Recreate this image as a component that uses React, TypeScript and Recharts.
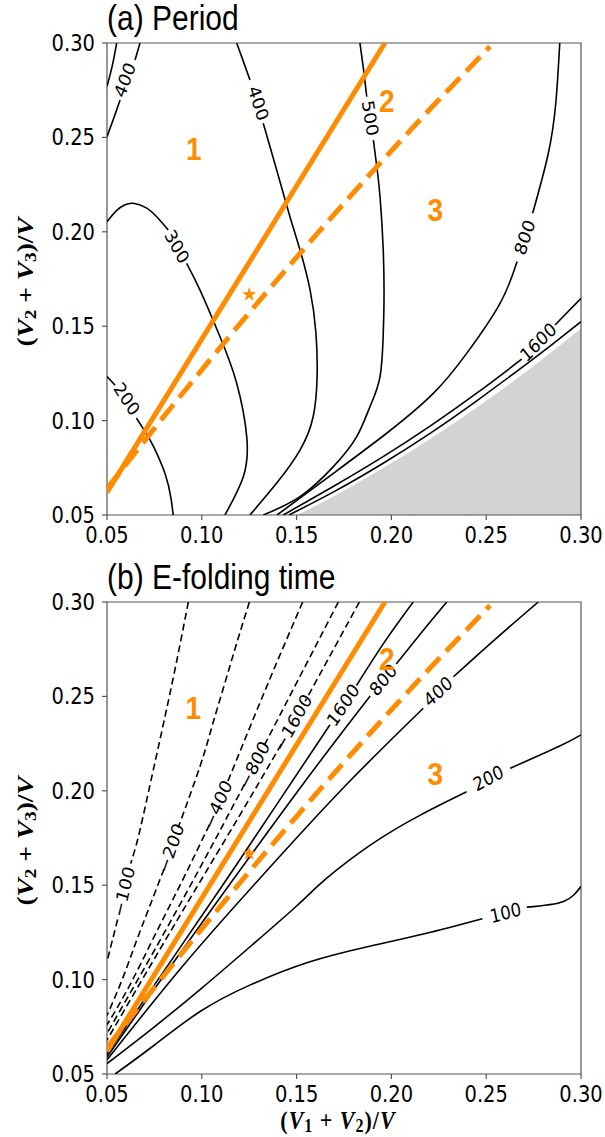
import React from 'react';
import { ComposedChart, Line, Area, Scatter, XAxis, YAxis, ReferenceArea } from 'recharts';

// glyphs in this figure are drawn taller than wide
const STRETCH = 1.14;
const ORANGE = '#ff8c00';
const AXIS_GREY = '#555555';
const TICKS = [0.05, 0.1, 0.15, 0.2, 0.25, 0.3];

type XY = [number, number];
const pts = (a: XY[]) => a.map(([x, y]) => ({ x, y }));

// ---- regime boundaries and reference point (both panels) ----
const BOUNDARY_SOLID: XY[] = [[0.05, 0.062], [0.1966, 0.3]];
const BOUNDARY_DASHED: XY[] = [
  [0.05, 0.064], [0.075, 0.0959], [0.1, 0.1269], [0.125, 0.1571], [0.15, 0.1865],
  [0.175, 0.2151], [0.2, 0.2429], [0.225, 0.2699], [0.252, 0.2981],
];
const STAR: XY[] = [[0.125, 0.1667]];

// ---- (a) period contours, split where the inline labels sit ----
const A_200_UP: XY[] = [[0.05, 0.1233], [0.0543, 0.1187]];
const A_200_LO: XY[] = [[0.0655, 0.1014], [0.0705, 0.0935], [0.0747, 0.0859], [0.0808, 0.0713], [0.0838, 0.0586], [0.0849, 0.05]];
const A_300_UP: XY[] = [[0.05, 0.2053], [0.055, 0.2112], [0.0595, 0.2143], [0.0639, 0.2151], [0.0705, 0.2128], [0.0762, 0.208], [0.0823, 0.201]];
const A_300_LO: XY[] = [[0.092, 0.1833], [0.099, 0.1692], [0.1096, 0.1444], [0.1184, 0.1198], [0.1237, 0.0915], [0.1219, 0.0703], [0.1122, 0.05]];
const A_400L_UP: XY[] = [[0.0674, 0.3], [0.0648, 0.291]];
const A_400L_LO: XY[] = [[0.0569, 0.2698], [0.0535, 0.26], [0.05, 0.2504]];
const A_500L: XY[] = [[0.0551, 0.3], [0.0528, 0.288], [0.05, 0.277]];
const A_400_UP: XY[] = [[0.1184, 0.3], [0.122, 0.29], [0.1254, 0.2804]];
const A_400_LO: XY[] = [
  [0.1324, 0.2575], [0.1395, 0.2327], [0.1465, 0.208], [0.1518, 0.1904], [0.1571, 0.1692], [0.1602, 0.1464],
  [0.1608, 0.1231], [0.1587, 0.1019], [0.1518, 0.0844], [0.1395, 0.0669], [0.1254, 0.05],
];
const A_500_UP: XY[] = [[0.1834, 0.3], [0.1853, 0.286], [0.187, 0.2716]];
const A_500_LO: XY[] = [
  [0.1905, 0.2486], [0.1925, 0.233], [0.194, 0.2186], [0.1957, 0.1904], [0.1961, 0.1639], [0.1957, 0.1462],
  [0.194, 0.1233], [0.1887, 0.1074], [0.1817, 0.0915], [0.1694, 0.0756], [0.1518, 0.0597], [0.1324, 0.05],
];
const A_800_UP: XY[] = [[0.2888, 0.3], [0.2867, 0.2681], [0.2826, 0.2408], [0.2745, 0.2098]];
const A_800_LO: XY[] = [[0.2663, 0.1843], [0.2573, 0.1621], [0.2397, 0.1356], [0.2221, 0.1144], [0.1975, 0.0933], [0.1694, 0.0721], [0.1397, 0.05]];
const A_1600_UP: XY[] = [[0.3, 0.1648], [0.2863, 0.1506]];
const A_1600_LO: XY[] = [[0.2687, 0.1325], [0.245, 0.1145], [0.22, 0.0968], [0.195, 0.0805], [0.17, 0.0655], [0.143, 0.05]];
const A_3200: XY[] = [[0.3, 0.1524], [0.285, 0.1405], [0.27, 0.129], [0.245, 0.1105], [0.22, 0.093], [0.195, 0.077], [0.17, 0.0625], [0.146, 0.05]];
// no-oscillation region
const A_SHADE: XY[] = [[0.15, 0.05], [0.17, 0.0604], [0.195, 0.0747], [0.22, 0.0902], [0.245, 0.1071], [0.27, 0.1254], [0.285, 0.1369], [0.3, 0.149]];

const PERIOD_LINES = [
  A_200_UP, A_200_LO, A_300_UP, A_300_LO, A_400L_UP, A_400L_LO, A_500L, A_400_UP, A_400_LO,
  A_500_UP, A_500_LO, A_800_UP, A_800_LO, A_1600_UP, A_1600_LO, A_3200,
];
const PERIOD_LABEL_TEXT = ['400', '400', '500', '300', '200', '800', '1600'];
const PERIOD_LABEL_AT: XY[] = [[0.0595, 0.2804], [0.1298, 0.2681], [0.1887, 0.2601], [0.0868, 0.1921], [0.0604, 0.1114], [0.2704, 0.197], [0.2775, 0.1415]];
const PERIOD_LABEL_ANGLE = [70, -73, -81, -61, -57, 72, 46];

// ---- (b) e-folding time contours ----
const B_M100_UP: XY[] = [[0.0929, 0.3], [0.086, 0.265], [0.079, 0.232], [0.072, 0.2], [0.0665, 0.1755], [0.0625, 0.1615]];
const B_M100_LO: XY[] = [[0.0556, 0.1318], [0.053, 0.1215], [0.05, 0.1095]];
const B_M200_UP: XY[] = [[0.1251, 0.3], [0.1185, 0.2785], [0.112, 0.2565], [0.1055, 0.2345], [0.099, 0.2128], [0.0875, 0.1804]];
const B_M200_LO: XY[] = [[0.0801, 0.1586], [0.072, 0.1375], [0.065, 0.119], [0.058, 0.1], [0.05, 0.081]];
const B_M400_UP: XY[] = [[0.1532, 0.3], [0.1385, 0.2655], [0.1255, 0.234], [0.113, 0.2032]];
const B_M400_LO: XY[] = [[0.104, 0.182], [0.09, 0.153], [0.075, 0.123], [0.062, 0.097], [0.05, 0.076]];
const B_M800_UP: XY[] = [[0.172, 0.3], [0.1525, 0.262], [0.1329, 0.224]];
const B_M800_LO: XY[] = [[0.1225, 0.2034], [0.1, 0.161], [0.075, 0.1155], [0.05, 0.0715]];
const B_M1600_UP: XY[] = [[0.1831, 0.3], [0.1688, 0.2737], [0.1545, 0.2474]];
const B_M1600_LO: XY[] = [[0.1419, 0.2246], [0.12, 0.187], [0.095, 0.145], [0.07, 0.1025], [0.05, 0.068]];
const B_P1600_UP: XY[] = [[0.2115, 0.3], [0.1965, 0.279], [0.1816, 0.2558]];
const B_P1600_LO: XY[] = [[0.1676, 0.235], [0.14, 0.1935], [0.11, 0.1485], [0.08, 0.1045], [0.05, 0.0605]];
const B_P800_UP: XY[] = [[0.2292, 0.3], [0.216, 0.284], [0.2026, 0.2672]];
const B_P800_LO: XY[] = [[0.1888, 0.2502], [0.15, 0.199], [0.1, 0.13], [0.075, 0.095], [0.05, 0.059]];
const B_P400_UP: XY[] = [[0.2775, 0.3], [0.255, 0.2805], [0.2327, 0.2604]];
const B_P400_LO: XY[] = [[0.2168, 0.2437], [0.1738, 0.2007], [0.1307, 0.1537], [0.0903, 0.1076], [0.05, 0.0575]];
const B_P200_LO: XY[] = [[0.05, 0.0555], [0.075, 0.075], [0.1, 0.0955], [0.125, 0.117], [0.15, 0.139], [0.1659, 0.1537], [0.19, 0.172], [0.215, 0.187], [0.2397, 0.1995]];
const B_P200_HI: XY[] = [[0.2626, 0.2119], [0.2888, 0.2237], [0.3, 0.2296]];
const B_P100_LO: XY[] = [[0.0543, 0.05], [0.0747, 0.0651], [0.0991, 0.0831], [0.1256, 0.0972], [0.1562, 0.1092], [0.1868, 0.1173], [0.2174, 0.1243], [0.248, 0.1323]];
const B_P100_HI: XY[] = [[0.2714, 0.1384], [0.2908, 0.1414], [0.3, 0.1494]];

const EFOLD_NEG_LINES = [B_M100_UP, B_M100_LO, B_M200_UP, B_M200_LO, B_M400_UP, B_M400_LO, B_M800_UP, B_M800_LO, B_M1600_UP, B_M1600_LO];
const EFOLD_POS_LINES = [B_P1600_UP, B_P1600_LO, B_P800_UP, B_P800_LO, B_P400_UP, B_P400_LO, B_P200_LO, B_P200_HI, B_P100_LO, B_P100_HI];
const EFOLD_LABEL_TEXT = ['\u2212100', '\u2212200', '\u2212400', '\u2212800', '\u22121600', '1600', '800', '400', '200', '100'];
const EFOLD_LABEL_AT: XY[] = [
  [0.0589, 0.1465], [0.0838, 0.1695], [0.1085, 0.1926], [0.1277, 0.2137], [0.1482, 0.236],
  [0.1746, 0.2454], [0.1957, 0.2587], [0.2247, 0.2525], [0.2511, 0.2066], [0.2602, 0.1353],
];
const EFOLD_LABEL_ANGLE = [77, 71, 67, 63, 61, 56, 51, 43, 28, 15];

// ---- regime numbers ----
const REGIME_TEXT = ['1', '2', '3'];
const PERIOD_REGIME_AT: XY[] = [[0.0958, 0.2442], [0.1976, 0.2692], [0.2231, 0.2115]];
const EFOLD_REGIME_AT: XY[] = [[0.0955, 0.2438], [0.1976, 0.2699], [0.2231, 0.2092]];

type Label = { x: number; y: number; text: string; angle: number };
const makeLabels = (text: string[], at: XY[], angle: number[]): Label[] =>
  text.map((t, i) => ({ x: at[i][0], y: at[i][1], text: t, angle: angle[i] }));

const toLocalAngle = (a: number) => (Math.atan(Math.tan((a * Math.PI) / 180) / STRETCH) * 180) / Math.PI;

function ContourLabel(props: any) {
  const { cx, cy, payload } = props;
  if (cx == null || cy == null) return null;
  const a = toLocalAngle(payload.angle);
  return (
    <text
      transform={`translate(${cx},${cy}) scale(1,${STRETCH}) rotate(${-a})`}
      textAnchor="middle"
      dominantBaseline="central"
      fontFamily="DejaVu Sans"
      fontSize={16.5}
      fill="#000"
    >
      {payload.text}
    </text>
  );
}

function RegimeLabel(props: any) {
  const { cx, cy, payload } = props;
  if (cx == null || cy == null) return null;
  return (
    <text
      transform={`translate(${cx},${cy}) scale(1,${STRETCH})`}
      textAnchor="middle"
      dominantBaseline="central"
      fontFamily="Liberation Sans"
      fontWeight="bold"
      fontSize={28}
      fill={ORANGE}
    >
      {payload.text}
    </text>
  );
}

function XTick(props: any) {
  const { x, y, payload } = props;
  return (
    <g transform={`translate(${x},${y}) scale(1,${STRETCH})`}>
      <text x={0} y={0} dy="0.71em" textAnchor="middle" fontFamily="DejaVu Sans" fontSize={19.5} fill="#000">
        {Number(payload.value).toFixed(2)}
      </text>
    </g>
  );
}

function YTick(props: any) {
  const { x, y, payload } = props;
  return (
    <g transform={`translate(${x},${y}) scale(1,${STRETCH})`}>
      <text x={0} y={0} dy="0.36em" textAnchor="end" fontFamily="DejaVu Sans" fontSize={19.5} fill="#000">
        {Number(payload.value).toFixed(2)}
      </text>
    </g>
  );
}

type PanelProps = {
  solid: XY[][];
  dashed: XY[][];
  shade?: XY[];
  labels: Label[];
  regimes: Label[];
};

function Panel({ solid, dashed, shade, labels, regimes }: PanelProps) {
  return (
    <ComposedChart width={605} height={560} margin={{ top: 43, right: 24, bottom: 15, left: 47 }}>
      <XAxis
        type="number"
        dataKey="x"
        domain={[0.05, 0.3]}
        ticks={TICKS}
        allowDataOverflow
        interval={0}
        height={30}
        tickSize={5}
        tickMargin={7}
        axisLine={false}
        tickLine={{ stroke: AXIS_GREY, strokeWidth: 1.2 }}
        tick={<XTick />}
      />
      <YAxis
        type="number"
        dataKey="y"
        domain={[0.05, 0.3]}
        ticks={TICKS}
        allowDataOverflow
        interval={0}
        width={60}
        tickSize={5}
        tickMargin={7}
        axisLine={false}
        tickLine={{ stroke: AXIS_GREY, strokeWidth: 1.2 }}
        tick={<YTick />}
      />
      {shade && (
        <Area
          data={pts(shade)}
          dataKey="y"
          type="monotone"
          baseValue="dataMin"
          fill="#d3d3d3"
          fillOpacity={1}
          stroke="#ffffff"
          strokeWidth={0.8}
          dot={false}
          activeDot={false}
          isAnimationActive={false}
        />
      )}
      {solid.map((seg, i) => (
        <Line key={`s${i}`} data={pts(seg)} dataKey="y" type="natural" stroke="#000" strokeWidth={1.6}
          dot={false} activeDot={false} isAnimationActive={false} />
      ))}
      {dashed.map((seg, i) => (
        <Line key={`d${i}`} data={pts(seg)} dataKey="y" type="natural" stroke="#000" strokeWidth={1.6}
          strokeDasharray="7 4" dot={false} activeDot={false} isAnimationActive={false} />
      ))}
      <Line data={pts(BOUNDARY_SOLID)} dataKey="y" type="linear" stroke={ORANGE} strokeWidth={5}
        dot={false} activeDot={false} isAnimationActive={false} />
      <Line data={pts(BOUNDARY_DASHED)} dataKey="y" type="natural" stroke={ORANGE} strokeWidth={5}
        strokeDasharray="20 9" dot={false} activeDot={false} isAnimationActive={false} />
      <Scatter data={labels} shape={<ContourLabel />} isAnimationActive={false} />
      <Scatter data={regimes} shape={<RegimeLabel />} isAnimationActive={false} />
      <Scatter data={pts(STAR)} shape="star" fill={ORANGE} isAnimationActive={false} />
      <ReferenceArea x1={0.05} x2={0.3} y1={0.05} y2={0.3} fill="none" stroke={AXIS_GREY}
        strokeWidth={1.2} ifOverflow="visible" />
    </ComposedChart>
  );
}

function MathLabel({ a, b, sub }: { a: string; b: string; sub: number }) {
  return (
    <>
      <tspan>(</tspan>
      <tspan fontStyle="italic">V</tspan>
      <tspan fontSize={sub} dy={3}>{a}</tspan>
      <tspan dy={-3}>{' + '}</tspan>
      <tspan fontStyle="italic">V</tspan>
      <tspan fontSize={sub} dy={3}>{b}</tspan>
      <tspan dy={-3}>)/</tspan>
      <tspan fontStyle="italic">V</tspan>
    </>
  );
}

export default function App() {
  const periodLabels = makeLabels(PERIOD_LABEL_TEXT, PERIOD_LABEL_AT, PERIOD_LABEL_ANGLE);
  const efoldLabels = makeLabels(EFOLD_LABEL_TEXT, EFOLD_LABEL_AT, EFOLD_LABEL_ANGLE);
  const periodRegimes = makeLabels(REGIME_TEXT, PERIOD_REGIME_AT, [0, 0, 0]);
  const efoldRegimes = makeLabels(REGIME_TEXT, EFOLD_REGIME_AT, [0, 0, 0]);

  return (
    <div style={{ position: 'absolute', left: 0, top: 0, width: 605, height: 1137, background: '#fff' }}>
      <div style={{ position: 'absolute', left: 0, top: 0 }}>
        <Panel solid={PERIOD_LINES} dashed={[]} shade={A_SHADE} labels={periodLabels} regimes={periodRegimes} />
      </div>
      <div style={{ position: 'absolute', left: 0, top: 559 }}>
        <Panel solid={EFOLD_POS_LINES} dashed={EFOLD_NEG_LINES} labels={efoldLabels} regimes={efoldRegimes} />
      </div>
      <svg width={605} height={1137} style={{ position: 'absolute', left: 0, top: 0, pointerEvents: 'none' }}>
        <text transform={`translate(107,29.5) scale(1,${STRETCH})`} fontFamily="Liberation Sans" fontSize={30} fill="#000">
          (a) Period
        </text>
        <text transform={`translate(107,588.5) scale(1,${STRETCH})`} fontFamily="Liberation Sans" fontSize={30} fill="#000">
          (b) E-folding time
        </text>
        <text transform={`translate(33,282) scale(1,${STRETCH}) rotate(-90)`} textAnchor="middle"
          fontFamily="Liberation Serif" fontWeight="bold" fontSize={24} fill="#000">
          <MathLabel a="2" b="3" sub={17} />
        </text>
        <text transform={`translate(33,841) scale(1,${STRETCH}) rotate(-90)`} textAnchor="middle"
          fontFamily="Liberation Serif" fontWeight="bold" fontSize={24} fill="#000">
          <MathLabel a="2" b="3" sub={17} />
        </text>
        <text transform={`translate(338,1129) scale(1,${STRETCH})`} textAnchor="middle" letterSpacing={1}
          fontFamily="Liberation Serif" fontWeight="bold" fontSize={22} fill="#000">
          <MathLabel a="1" b="2" sub={16} />
        </text>
      </svg>
    </div>
  );
}
